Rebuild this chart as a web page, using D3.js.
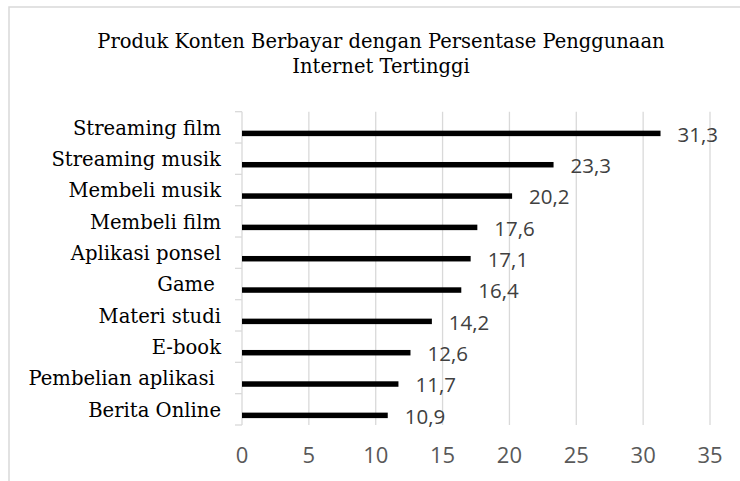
<!DOCTYPE html>
<html><head><meta charset="utf-8">
<script src="https://cdn.jsdelivr.net/npm/d3@7"></script>
<style>
html,body{margin:0;padding:0;background:#fff;}
svg{display:block;}
text{white-space:pre;}
</style></head>
<body>
<svg id="c" width="740" height="481"></svg>
<script>
const categories = ["Streaming film","Streaming musik","Membeli musik","Membeli film","Aplikasi ponsel","Game ","Materi studi","E-book","Pembelian aplikasi ","Berita Online"];
const values = [31.3,23.3,20.2,17.6,17.1,16.4,14.2,12.6,11.7,10.9];
const valueLabels = ["31,3","23,3","20,2","17,6","17,1","16,4","14,2","12,6","11,7","10,9"];
const tickValues = [0,5,10,15,20,25,30,35];
const titleLines = ["Produk Konten Berbayar dengan Persentase Penggunaan","Internet Tertinggi"];

const svg = d3.select("#c");
const serif = "'DejaVu Serif', serif";
const sans = "'Open Sans', sans-serif";

// outer frame
svg.append("rect").attr("x",9).attr("y",7).attr("width",760).attr("height",500)
  .attr("fill","#fff").attr("stroke","#d9d9d9").attr("stroke-width",1.5);

const x = d3.scaleLinear().domain([0,35]).range([242,710]);
const y = d3.scaleBand().domain(categories).range([111.7,425]).paddingInner(0).paddingOuter(0);
const bw = y.bandwidth();

// gridlines
svg.append("g").selectAll("line").data(tickValues.filter(d=>d>0)).join("line")
  .attr("x1",d=>x(d)).attr("x2",d=>x(d)).attr("y1",111.7).attr("y2",425)
  .attr("stroke","#d9d9d9").attr("stroke-width",1.3);

// category axis line + ticks
const ax = svg.append("g");
ax.append("line").attr("x1",x(0)).attr("x2",x(0)).attr("y1",111.7).attr("y2",425)
  .attr("stroke","#d9d9d9").attr("stroke-width",1.3);
const tickPos = categories.map(c=>y(c)).concat([y(categories[categories.length-1])+bw]);
ax.selectAll("line.t").data(tickPos).join("line").attr("class","t")
  .attr("x1",235).attr("x2",x(0)).attr("y1",d=>d).attr("y2",d=>d)
  .attr("stroke","#d9d9d9").attr("stroke-width",1.3);

// bars
svg.append("g").selectAll("rect").data(values).join("rect")
  .attr("x",x(0)).attr("y",(d,i)=>y(categories[i])+bw*0.605)
  .attr("width",d=>x(d)-x(0)).attr("height",bw*0.175).attr("fill","#000");

// value labels
svg.append("g").selectAll("text").data(values).join("text")
  .attr("x",d=>x(d)+17).attr("y",(d,i)=>y(categories[i])+bw*0.69+8.3)
  .attr("font-family",sans).attr("font-size",20.5).attr("fill","#404040")
  .text((d,i)=>valueLabels[i]);

// category labels
svg.append("g").selectAll("text").data(categories).join("text")
  .attr("x",221).attr("y",d=>y(d)+bw/2+7.2).attr("text-anchor","end")
  .attr("font-family",serif).attr("font-size",19.6).attr("fill","#000")
  .text(d=>d);

// x tick labels
svg.append("g").selectAll("text").data(tickValues).join("text")
  .attr("x",d=>x(d)).attr("y",463).attr("text-anchor","middle")
  .attr("font-family",sans).attr("font-size",22).attr("fill","#595959")
  .text(d=>d);

// title
svg.append("g").selectAll("text").data(titleLines).join("text")
  .attr("x",381).attr("y",(d,i)=>48+i*25).attr("text-anchor","middle")
  .attr("font-family",serif).attr("font-size",19.5).attr("fill","#000")
  .text(d=>d);
</script>
</body></html>
